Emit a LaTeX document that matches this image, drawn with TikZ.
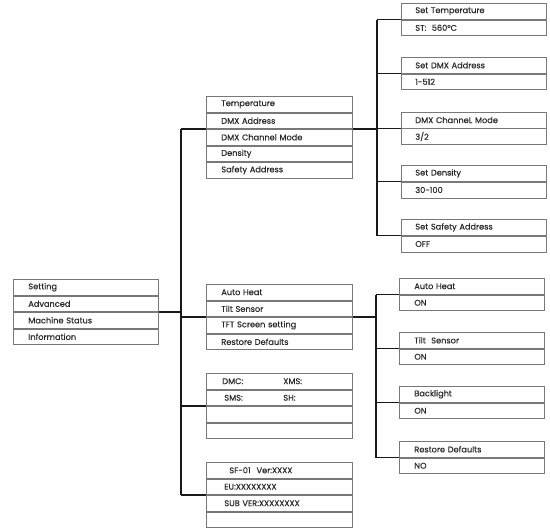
\documentclass[tikz,border=0pt]{standalone}
\usepackage{fontspec}
\setmainfont{Poppins}
\newfontfamily\menufont{Poppins}[FakeBold=0.35]
\usepackage{tikz}
\usetikzlibrary{positioning,calc}
\definecolor{rowgray}{RGB}{120,120,120}
\definecolor{linkblack}{RGB}{25,25,25}
\definecolor{textgray}{RGB}{40,40,40}
\tikzset{
  row/.style={rectangle, draw=rowgray, line width=0.7pt, inner xsep=15pt, inner ysep=0pt,
              minimum height=15.8pt, text width=116pt, align=left, text=textgray,
              font=\menufont\fontsize{8.2}{9}\selectfont},
  rowsm/.style={row, text width=115pt, inner xsep=15pt},
  link/.style={line width=1.2pt, linkblack},
}

\begin{document}
\begin{tikzpicture}[x=1pt, y=-1pt, node distance=0pt]
\useasboundingbox (0,0) rectangle (550,528);

% main menu
\node[rowsm, anchor=north west] (setting) at (13,279) {Setting};
\node[rowsm, below=of setting] (advanced) {Advanced};
\node[rowsm, below=of advanced] (status) {Machine Status};
\node[rowsm, below=of status] (info) {Information};

% setting menu
\node[row, anchor=north west] (temp) at (206,96) {Temperature};
\node[row, below=of temp] (dmxaddr) {DMX Address};
\node[row, below=of dmxaddr] (dmxmode) {DMX Channel Mode};
\node[row, below=of dmxmode] (density) {Density};
\node[row, below=of density] (safety) {Safety Address};

% advanced menu
\node[row, anchor=north west] (autoheat) at (206,284) {Auto Heat};
\node[row, below=of autoheat] (tilt) {Tilt Sensor};
\node[row, below=of tilt] (tft) {TFT Screen setting};
\node[row, below=of tft] (restore) {Restore Defaults};

% machine status
\node[row, anchor=north west] (dmc) at (206,373) {\hspace*{1pt}\makebox[61pt][l]{DMC:}XMS:};
\node[row, below=of dmc] (sms) {\hspace*{3pt}\makebox[59pt][l]{SMS:}SH:};
\node[row, below=of sms] (statc) {};
\node[row, below=of statc] (statd) {};

% information
\node[row, anchor=north west] (sf) at (206,462) {\hspace*{8pt}SF-01\hspace{6pt}Ver:XXXX};
\node[row, below=of sf] (eu) {\hspace*{3pt}EU:XXXXXXXX};
\node[row, below=of eu] (subver) {\hspace*{3pt}SUB VER:XXXXXXXX};
\node[row, below=of subver] (infod) {};

% setting values
\node[rowsm, inner xsep=14pt, text width=117pt, anchor=north west] (settemp) at (401,3) {Set Temperature};
\node[rowsm, inner xsep=14pt, text width=117pt, below=of settemp] (stval) {ST:\ \ 560°C};
\node[rowsm, inner xsep=14pt, text width=117pt, anchor=north west] (setdmx) at (401,57) {Set DMX Address};
\node[rowsm, inner xsep=14pt, text width=117pt, below=of setdmx] (dmxval) {1-512};
\node[rowsm, inner xsep=14pt, text width=117pt, anchor=north west] (setmode) at (401,111.8) {DMX ChanneL Mode};
\node[rowsm, inner xsep=14pt, text width=117pt, below=of setmode] (modeval) {3/2};
\node[rowsm, inner xsep=14pt, text width=117pt, anchor=north west] (setdens) at (401,165.2) {Set Density};
\node[rowsm, inner xsep=14pt, text width=117pt, below=of setdens] (densval) {30-100};
\node[rowsm, inner xsep=14pt, text width=117pt, anchor=north west] (setsafe) at (401,219.2) {Set Safety Address};
\node[rowsm, inner xsep=14pt, text width=117pt, below=of setsafe] (safeval) {OFF};

% advanced values
\node[rowsm, anchor=north west] (heatset) at (399,278) {Auto Heat};
\node[rowsm, below=of heatset] (heatval) {ON};
\node[rowsm, anchor=north west] (tiltset) at (399,332) {Tilt\ \ Sensor};
\node[rowsm, below=of tiltset] (tiltval) {ON};
\node[rowsm, anchor=north west] (lightset) at (399,386) {Backlight};
\node[rowsm, below=of lightset] (lightval) {ON};
\node[rowsm, anchor=north west] (restset) at (399,441) {Restore Defaults};
\node[rowsm, below=of restset] (restval) {NO};

% connectors
\coordinate (trunkA) at (181,0);
\coordinate (trunkB) at (377,0);
\coordinate (trunkC) at (376,0);
\draw[link] (advanced.south east) -- (advanced.south east -| trunkA);
\draw[link] (dmxaddr.south west -| trunkA) -- (eu.south west -| trunkA);
\foreach \r in {dmxaddr, tilt, sms, eu}
  \draw[link] (\r.south west -| trunkA) -- (\r.south west);
\draw[link] (dmxaddr.south east) -- (dmxaddr.south east -| trunkB);
\draw[link] (settemp.south west -| trunkB) -- (setsafe.south west -| trunkB);
\foreach \r in {settemp, setdmx, setmode, setdens, setsafe}
  \draw[link] (\r.south west -| trunkB) -- (\r.south west);
\draw[link] (tilt.south east) -- (tilt.south east -| trunkC);
\draw[link] (heatset.south west -| trunkC) -- (restset.south west -| trunkC);
\foreach \r in {heatset, tiltset, lightset, restset}
  \draw[link] (\r.south west -| trunkC) -- (\r.south west);
\end{tikzpicture}
\end{document}
